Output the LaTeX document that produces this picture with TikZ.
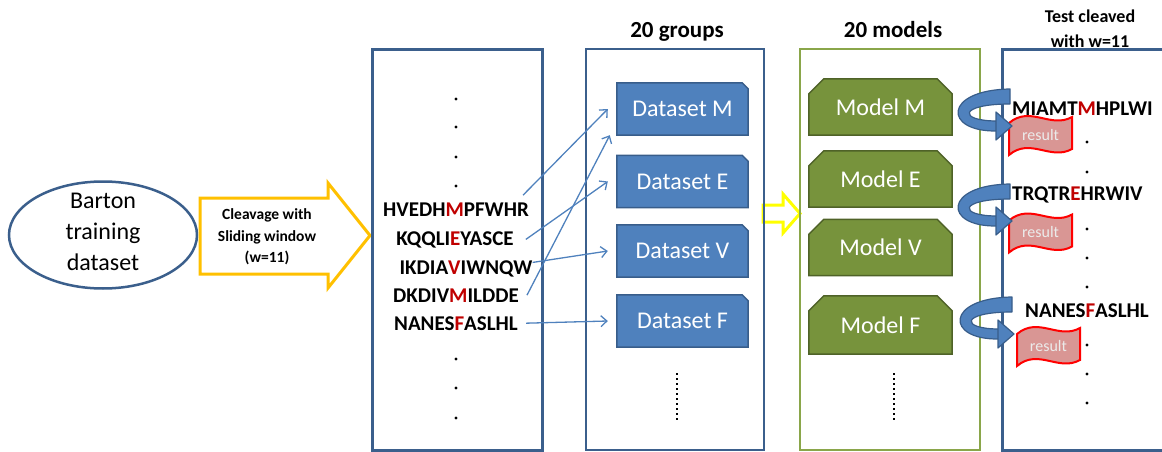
\documentclass[tikz,border=0pt]{standalone}
\usepackage{fontspec}
\setmainfont{Carlito}
\usetikzlibrary{arrows.meta,shapes.geometric,calc}
\pgfdeclarelayer{bg}
\pgfsetlayers{bg,main}
\definecolor{boxblue}{HTML}{3B5F8C}
\definecolor{dsfill}{HTML}{4F81BD}
\definecolor{dsline}{HTML}{385D8A}
\definecolor{mdfill}{HTML}{77933C}
\definecolor{mdline}{HTML}{4F6228}
\definecolor{grnbox}{HTML}{8AA64A}
\definecolor{cleav}{HTML}{FFC000}
\definecolor{yel}{HTML}{FFFF00}
\definecolor{seqred}{HTML}{C00000}
\definecolor{flagfill}{HTML}{D99694}
\definecolor{flagline}{HTML}{FF0000}
\newcommand\rd[1]{\textcolor{seqred}{#1}}
\newcommand\dshape[1]{\draw[dsshape] (#1.south west) -- (#1.north west) -- ([xshift=-6pt]#1.north east) -- ([yshift=-6pt]#1.north east) -- (#1.south east) -- cycle;}
\newcommand\mshape[1]{\draw[mdshape] (#1.south west) -- ([yshift=-15pt]#1.north west) -- ([xshift=15pt]#1.north west) -- ([xshift=-15pt]#1.north east) -- ([yshift=-15pt]#1.north east) -- (#1.south east) -- cycle;}
\newcommand\flagshape[1]{\filldraw[flag] ($(#1)+(-31.5,-12)$) .. controls +(21.5,-18) and +(-21.5,12) .. ($(#1)+(31.5,-18)$) -- ($(#1)+(31.5,14)$) .. controls +(-21.5,12) and +(21.5,-18) .. ($(#1)+(-31.5,20)$) -- cycle;}
\newcommand\uturn[1]{\begin{scope}[shift={#1}]
 \filldraw[uturn] (2,-6) .. controls (-65,-5) and (-65,37) .. (-11,36) -- (-11,26) .. controls (-50,26) and (-50,9) .. (2,9) -- cycle;
 \filldraw[uturn] (-12,17) -- (4,31) -- (-12,45) -- cycle;
\end{scope}}
\begin{document}
\begin{tikzpicture}[x=1pt,y=-1pt,
  title/.style={font=\bfseries\fontsize{23}{23}\selectfont, inner sep=0},
  smalltitle/.style={font=\bfseries\fontsize{18}{25}\selectfont, align=center, inner sep=0},
  seq/.style={font=\bfseries\fontsize{21}{21}\selectfont, inner sep=0, anchor=base},
  ds/.style={minimum width=131pt, minimum height=52pt, inner sep=0, text=white, font=\fontsize{24}{24}\selectfont},
  md/.style={minimum width=143pt, minimum height=56pt, inner sep=0, text=white, font=\fontsize{24}{24}\selectfont},
  dsshape/.style={fill=dsfill, draw=dsline, line width=1.5pt},
  mdshape/.style={fill=mdfill, draw=mdline, line width=1.5pt},
  conn/.style={draw=dsfill, line width=1.3pt, -{Straight Barb[length=6pt,width=11pt]}},
  uturn/.style={fill=dsfill, draw=dsline, line width=1.2pt, line join=round},
  flag/.style={fill=flagfill, draw=flagline, line width=2pt},
  flagtext/.style={text=white!92!black, font=\fontsize{16}{16}\selectfont, inner sep=0},
  cleavtext/.style={font=\bfseries\fontsize{15.5}{21.5}\selectfont, align=center, inner sep=0},
  frame/.style={draw=boxblue, line width=3pt, inner sep=0},
  gframe/.style={draw=grnbox, line width=2.5pt, inner sep=0},
  vdots/.style={line width=2.5pt, dash pattern=on 2pt off 3pt},
  dot/.style={fill=black}
]
\useasboundingbox (0,0) rectangle (1162,452);
\clip (0,0) rectangle (1162,452);

% ellipse
\node[draw=boxblue, line width=2.5pt, ellipse, minimum width=188pt, minimum height=107pt, inner sep=0] (barton) at (103,235) {};
\node[align=center, inner sep=0, font=\fontsize{24}{31}\selectfont] (bartontxt) at (103,232) {Barton\\training\\dataset};

% cleavage arrow
\draw[cleav, line width=3pt, line join=miter] (200,198) -- (328,198) -- (328,183) -- (370,235.5) -- (328,288) -- (328,274) -- (200,274) -- cycle;
\node[cleavtext] (clv) at (267,237) {Cleavage with\\Sliding window\\(w=11)};

% yellow arrow between groups and models
\draw[yel, line width=3pt, line join=miter] (763,205) -- (783,205) -- (783,194) -- (800,213.5) -- (783,233) -- (783,222) -- (763,222) -- cycle;

% frames
\node[frame, minimum width=170pt, minimum height=400pt] (b1) at (457,250) {};
\node[frame, line width=2.5pt, minimum width=178pt, minimum height=401pt] (b2) at (675,249.5) {};
\node[gframe, minimum width=180pt, minimum height=401pt] (b3) at (890,249.5) {};
\node[frame, minimum width=173pt, minimum height=400pt] (b4) at (1088.5,250) {};

% titles
\node[title] (tg) at (677,32) {20 groups};
\node[title] (tm) at (893,30) {20 models};
\node[smalltitle] (tt) at (1090,29) {Test cleaved\\with w=11};

% training sequences
\node[seq] (s1) at (456,216) {HVEDH\rd{M}PFWHR};
\node[seq] (s2) at (455,245) {KQQLI\rd{E}YASCE};
\node[seq] (s3) at (466,274) {IKDIA\rd{V}IWNQW};
\node[seq] (s4) at (456,302) {DKDIV\rd{M}ILDDE};
\node[seq] (s5) at (456,330) {NANES\rd{F}ASLHL};
\foreach \y in {99,127,157,186,359,388,418} \fill[dot] (456,\y) circle (1.7pt);

% datasets
\node[ds] (dM) at (682.5,109) {Dataset M};
\node[ds] (dE) at (682.5,181.5) {Dataset E};
\node[ds] (dV) at (682.5,251) {Dataset V};
\node[ds] (dF) at (682.5,321) {Dataset F};
\draw[vdots] (677,373) -- (677,420);

% models
\node[md] (mM) at (880.5,107) {Model M};
\node[md] (mE) at (880.5,179) {Model E};
\node[md] (mV) at (880.5,247.5) {Model V};
\node[md, minimum height=58pt] (mF) at (880.5,325) {Model F};
\draw[vdots] (894,373) -- (894,420);

% result flags
\node[flagtext] (r1) at (1040.5,135) {result};
\node[flagtext] (r2) at (1040.5,232.5) {result};
\node[flagtext] (r3) at (1048.5,346) {result};

\begin{pgfonlayer}{bg}
\dshape{dM}\dshape{dE}\dshape{dV}\dshape{dF}
\mshape{mM}\mshape{mE}\mshape{mV}\mshape{mF}
\flagshape{r1}\flagshape{r2}\flagshape{r3}
\end{pgfonlayer}

% test sequences
\node[seq, anchor=base west] (t1) at (1012,115) {MIAMT\rd{M}HPLWI};
\node[seq, anchor=base west] (t2) at (1012,200) {TRQTR\rd{E}HRWIV};
\node[seq, anchor=base west] (t3) at (1025,317) {NANES\rd{F}ASLHL};
\foreach \y in {142,172,229,258,287,345,374,403} \fill[dot] (1087,\y) circle (1.6pt);

% u-turn arrows
\uturn{(1008,95)}
\uturn{(1008,190)}
\uturn{(1010,303)}

% connectors
\draw[conn] ([xshift=-6pt,yshift=7pt]s1.north east) -- ([xshift=-9pt]dM.west);
\draw[conn] ([xshift=12pt]s2.east) -- ([xshift=-9pt]dE.west);
\draw[conn] ([yshift=6pt]s3.east) -- ([xshift=-9pt]dV.west);
\draw[conn] ([xshift=8pt]s4.east) -- ([xshift=-7pt]dM.south west);
\draw[conn] ([xshift=8pt]s5.east) -- ([xshift=-9pt]dF.west);
\end{tikzpicture}
\end{document}
